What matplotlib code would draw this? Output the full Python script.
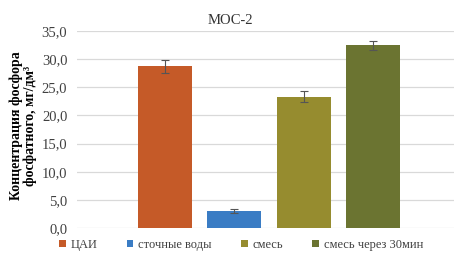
import matplotlib
matplotlib.use("Agg")
import matplotlib.pyplot as plt
import numpy as np

# data
series = ["ЦАИ", "сточные воды", "смесь", "смесь через 30мин"]
values = [28.7, 3.0, 23.3, 32.5]
errors = [1.1, 0.3, 1.0, 0.8]
colors = ["#C55A28", "#3A7CC4", "#968C2F", "#6B7431"]
yticks = [0, 5, 10, 15, 20, 25, 30, 35]
ytick_labels = ["0,0", "5,0", "10,0", "15,0", "20,0", "25,0", "30,0", "35,0"]

plt.rcParams["font.family"] = ["Liberation Serif", "DejaVu Serif"]

fig = plt.figure(figsize=(4.54, 2.54), dpi=100)
ax = fig.add_axes([77 / 454, 1 - 228 / 254, 1 - 77 / 454, 197 / 254])

x = np.arange(len(series))
for i in range(len(series)):
    ax.bar(x[i], values[i], width=0.78, color=colors[i], label=series[i], zorder=2)
    ax.errorbar(x[i], values[i], yerr=errors[i], fmt="none", ecolor="#555555",
                elinewidth=0.8, capsize=3, capthick=0.8, zorder=3)

ax.set_xlim(-1.26, 4.16)
ax.set_ylim(0, 35)
ax.set_yticks(yticks)
ax.set_yticklabels(ytick_labels, fontsize=10.5, color="#404040")
ax.set_xticks([])
ax.grid(axis="y", color="#D9D9D9", linewidth=0.9, zorder=0)
ax.tick_params(axis="y", length=0, pad=7)
for s in ax.spines.values():
    s.set_visible(False)

fig.text(230 / 454, 1 - 21 / 254, "МОС-2", ha="center", va="center", fontsize=10.5, color="#333333")
fig.text(23 / 454, 1 - 126 / 254, "Концентрация фосфора\nфосфатного, мг/дм³", rotation=90,
         ha="center", va="center", fontsize=10, fontweight="bold", linespacing=1.05)

fig.legend(loc="center left", bbox_to_anchor=(59 / 454, 1 - 245 / 254), ncol=4, frameon=False,
           fontsize=9, handlelength=0.55, handleheight=0.55, handletextpad=0.4,
           columnspacing=2.3, labelcolor="#404040", borderaxespad=0, borderpad=0)

fig.savefig("out.png", dpi=100)
